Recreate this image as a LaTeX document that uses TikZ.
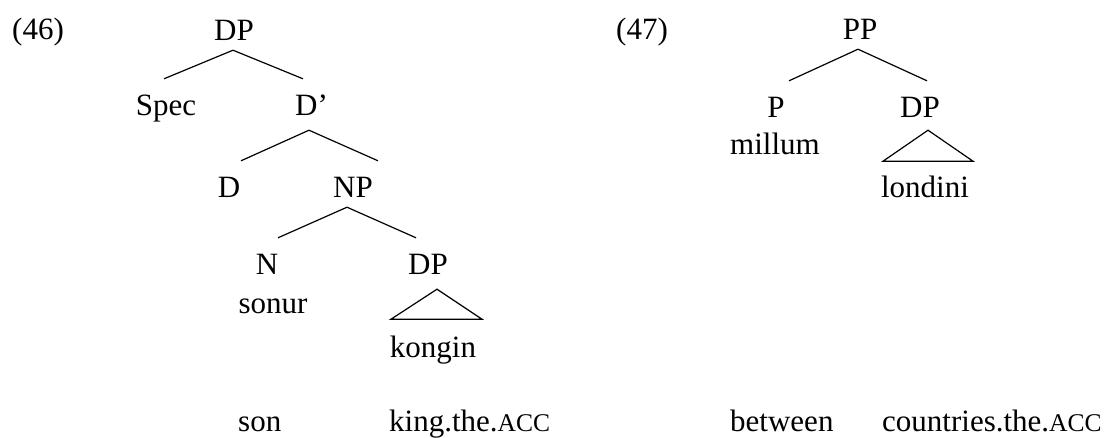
\documentclass[tikz,border=0pt]{standalone}
\usepackage{fontspec}
\setmainfont{Liberation Serif}
\newcommand{\smallcapsacc}{{\fontsize{25.5}{28}\selectfont ACC}}
\begin{document}
\begin{tikzpicture}[x=1pt,y=-1pt,
  every node/.style={font=\fontsize{31}{36}\selectfont, inner sep=0pt},
  cat/.style={anchor=base, text height=36pt, text depth=10pt},
  word/.style={anchor=base},
  gloss/.style={anchor=base west},
  branch/.style={line width=1.2pt},
  roof/.style={line width=1.2pt, line join=miter}]
\path[use as bounding box] (0,0) rectangle (1107,437);

% ---------- (46) ----------
\node[gloss] (n46) at (12,39) {(46)};
\node[cat] (dpa) at (234,40) {DP};
\node[cat] (spec) at (166,115) {Spec};
\node[cat] (dbar) at (311.5,115) {D’};
\node[cat] (d) at (229,197) {D};
\node[cat] (np) at (353,197) {NP};
\node[cat] (n) at (267,274) {N};
\node[cat] (dpb) at (428,274) {DP};
\node[word] (sonur) at (273,313) {sonur};
\node[word] (kongin) at (433,357) {kongin};
\node[gloss] (son) at (238,431) {son};
\node[gloss] (king) at (389,431) {king.the.\smallcapsacc};

\draw[branch] ([xshift=-1pt]dpa.south) -- ([xshift=-2pt]spec.north);
\draw[branch] ([xshift=-1pt]dpa.south) -- ([xshift=-8.5pt]dbar.north);
\draw[branch] ([xshift=-2.5pt,yshift=-5pt]dbar.south) -- ([xshift=12pt]d.north);
\draw[branch] ([xshift=-2.5pt,yshift=-5pt]dbar.south) -- ([xshift=25pt]np.north);
\draw[branch] ([xshift=-6pt]np.south) -- ([xshift=11pt]n.north);
\draw[branch] ([xshift=-6pt]np.south) -- ([xshift=-12pt]dpb.north);
\draw[roof] ([xshift=9pt,yshift=-5pt]dpb.south) -- ++(-46,30) -- ++(91,0) -- cycle;

% ---------- (47) ----------
\node[gloss] (n47) at (616,39) {(47)};
\node[cat] (pp) at (860,39) {PP};
\node[cat] (p) at (776,117) {P};
\node[cat] (dpc) at (920,117) {DP};
\node[word] (millum) at (775,154) {millum};
\node[word] (londini) at (925,197) {londini};
\node[gloss] (between) at (730,431) {between};
\node[gloss] (countries) at (882,431) {countries.the.\smallcapsacc};

\draw[branch] ([xshift=-2pt]pp.south) -- ([xshift=13pt]p.north);
\draw[branch] ([xshift=-2pt]pp.south) -- ([xshift=7pt]dpc.north);
\draw[roof] ([xshift=8pt,yshift=-3pt]dpc.south) -- ++(-45,31) -- ++(90,0) -- cycle;
\end{tikzpicture}
\end{document}
